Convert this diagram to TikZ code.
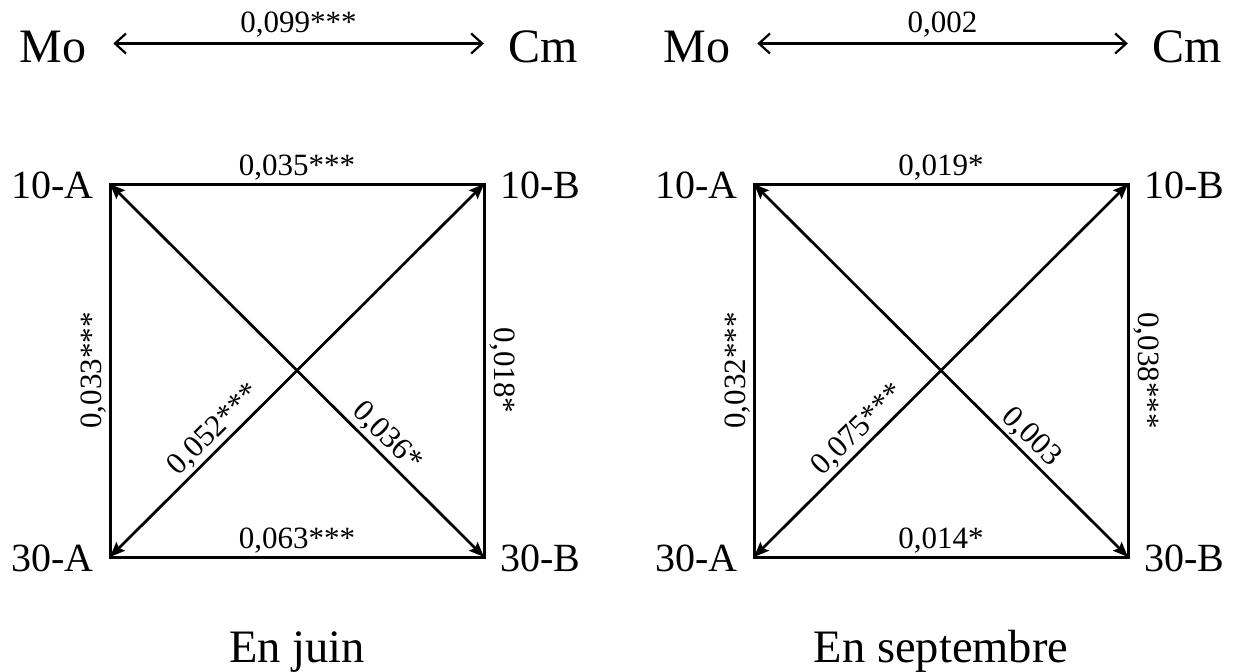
\documentclass[tikz,border=0pt]{standalone}
\usepackage{fontspec}
\setmainfont{Liberation Serif}
\usetikzlibrary{arrows.meta}
\begin{document}
\begin{tikzpicture}[x=1pt,y=-1pt,
  big/.style={font=\fontsize{48}{52}\selectfont, inner sep=0pt, text height=37pt, text depth=0pt},
  title/.style={font=\fontsize{46.5}{50}\selectfont, inner sep=0pt},
  corner/.style={font=\fontsize{40}{44}\selectfont, inner sep=0pt},
  val/.style={font=\fontsize{31}{35}\selectfont, inner sep=2.5pt},
  edgeline/.style={line width=3pt, line join=miter},
  diag/.style={line width=2.7pt,
    {Stealth[length=15pt,width=12pt,inset=2.5pt]}-{Stealth[length=15pt,width=12pt,inset=2.5pt]}},
  link/.style={line width=2.2pt,
    {Straight Barb[length=11pt,width=20pt,line width=2.2pt]}-{Straight Barb[length=11pt,width=20pt,line width=2.2pt]}}
]
\useasboundingbox (0,0) rectangle (1235,672);

% ---------- left panel : En juin ----------
\node[big, anchor=base, outer xsep=27pt] (lMo) at (53,62) {Mo};
\node[big, anchor=base, outer xsep=24.5pt] (lCm) at (543,62) {Cm};
\draw[link] (lMo.east) -- node[val, above, inner sep=5pt] {0,099***} (lCm.west);

\coordinate (la1) at (110,184);
\coordinate (lb1) at (484,184);
\coordinate (la3) at (110,557);
\coordinate (lb3) at (484,557);

\node[corner, anchor=base east] (lA10) at (94,198) {10-A};
\node[corner, anchor=base west] (lB10) at (500,198) {10-B};
\node[corner, anchor=base east] (lA30) at (94,571) {30-A};
\node[corner, anchor=base west] (lB30) at (500,571) {30-B};

\draw[edgeline] (la1) -- node[val, above] {0,035***} (lb1)
  -- node[val, midway, rotate=-90, anchor=south, inner sep=4pt] {0,018*} (lb3)
  -- node[val, above] {0,063***} (la3)
  -- node[val, midway, rotate=90, anchor=south] {0,033***} cycle;

\draw[diag] (la3) -- node[val, sloped, above, pos=0.31] {0,052***} (lb1);
\draw[diag] (la1) -- node[val, sloped, above, pos=0.71] {0,036*} (lb3);

\node[title, anchor=base] (ljuin) at (297,662) {En juin};

% ---------- right panel : En septembre ----------
\node[big, anchor=base, outer xsep=27pt] (rMo) at (697,62) {Mo};
\node[big, anchor=base, outer xsep=24.5pt] (rCm) at (1187,62) {Cm};
\draw[link] (rMo.east) -- node[val, above, inner sep=5pt] {0,002} (rCm.west);

\coordinate (ra1) at (754,184);
\coordinate (rb1) at (1128,184);
\coordinate (ra3) at (754,557);
\coordinate (rb3) at (1128,557);

\node[corner, anchor=base east] (rA10) at (738,198) {10-A};
\node[corner, anchor=base west] (rB10) at (1144,198) {10-B};
\node[corner, anchor=base east] (rA30) at (738,571) {30-A};
\node[corner, anchor=base west] (rB30) at (1144,571) {30-B};

\draw[edgeline] (ra1) -- node[val, above] {0,019*} (rb1)
  -- node[val, midway, rotate=-90, anchor=south, inner sep=4pt] {0,038***} (rb3)
  -- node[val, above] {0,014*} (ra3)
  -- node[val, midway, rotate=90, anchor=south] {0,032***} cycle;

\draw[diag] (ra3) -- node[val, sloped, above, pos=0.31] {0,075***} (rb1);
\draw[diag] (ra1) -- node[val, sloped, above, pos=0.71] {0,003} (rb3);

\node[title, anchor=base] (rsept) at (941,662) {En septembre};
\end{tikzpicture}
\end{document}
